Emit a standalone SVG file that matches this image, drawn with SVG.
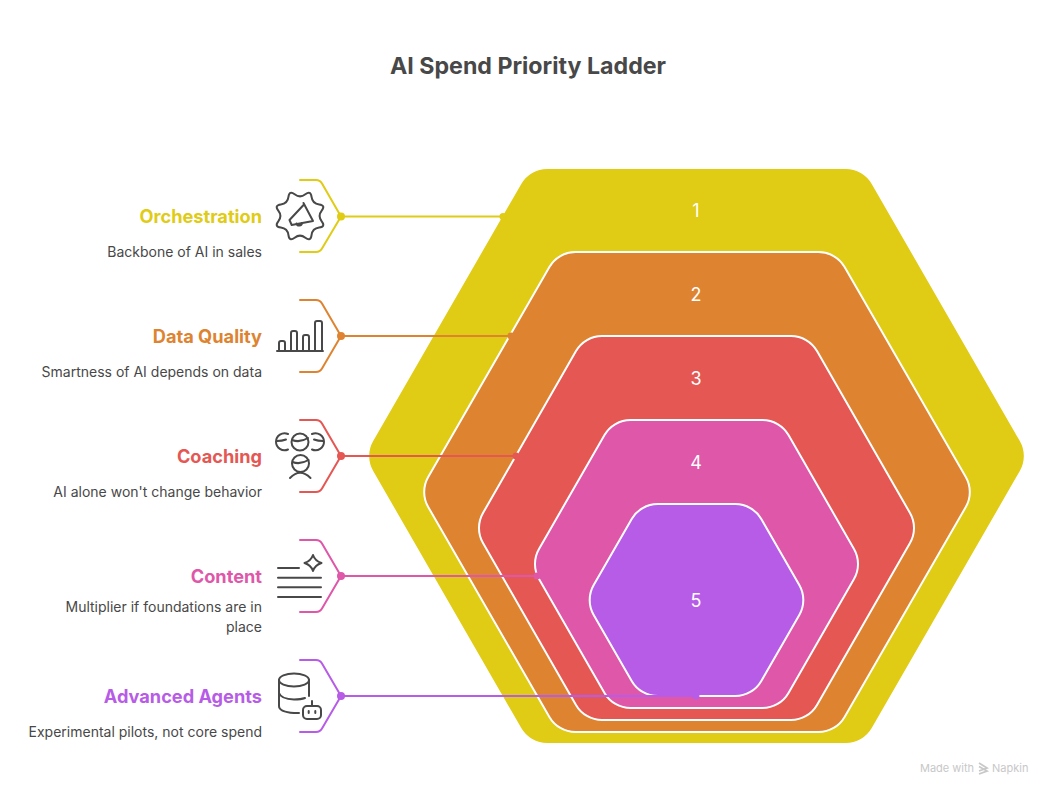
<svg xmlns="http://www.w3.org/2000/svg" width="1050" height="793" viewBox="0 0 1050 793">
<style>
text{font-family:Inter,"Liberation Sans",sans-serif}
.title{font-size:23.200px;font-weight:700;fill:#484848;text-anchor:middle}
.h{font-size:18.200px;font-weight:700;text-anchor:end}
.d{font-size:14px;fill:#484848;text-anchor:end}
.n{font-size:18px;fill:#fff;text-anchor:middle}
.hex{stroke:#fff;stroke-width:2}
.ic{fill:none;stroke:#484848;stroke-width:2;stroke-linecap:round;stroke-linejoin:round}
.c{fill:none;stroke-width:2;stroke-linecap:round;stroke-linejoin:round}
.y{stroke:#e0cb15;fill:#e0cb15}.o{stroke:#de8431;fill:#de8431}.r{stroke:#e55753;fill:#e55753}.p{stroke:#de57a9;fill:#de57a9}.v{stroke:#b75ce6;fill:#b75ce6}
.c.y,.c.o,.c.r,.c.p,.c.v{fill:none}
.dot{stroke:none}
.f{font-size:11px;fill:#c8c8c8}
</style>
<rect width="1050" height="793" fill="#fff"/>
<text class="title" x="528" y="73.500">AI Spend Priority Ladder</text>
<g id="hex-1"><path fill="#e0cb15" d="M547.3 169H845.700A30 30 0 0 1 871.700 184L1019.800 441A30 30 0 0 1 1019.800 471L871.700 728A30 30 0 0 1 845.700 743H547.300A30 30 0 0 1 521.300 728L373.200 471A30 30 0 0 1 373.200 441L521.300 184A30 30 0 0 1 547.300 169Z"/><text class="n" x="696" y="217">1</text></g>
<g id="hex-2"><path class="hex" fill="#de8431" d="M575.400 252H818.600A30 30 0 0 1 844.600 267L965.800 477A30 30 0 0 1 965.800 507L844.600 717A30 30 0 0 1 818.600 732H575.400A30 30 0 0 1 549.400 717L428.200 507A30 30 0 0 1 428.200 477L549.400 267A30 30 0 0 1 575.400 252Z"/><text class="n" x="696" y="301">2</text></g>
<g id="hex-3"><path class="hex" fill="#e55753" d="M602 336H791A30 30 0 0 1 817 351L910 513A30 30 0 0 1 910 543L817 705A30 30 0 0 1 791 720H602A30 30 0 0 1 576 705L483 543A30 30 0 0 1 483 513L576 351A30 30 0 0 1 602 336Z"/><text class="n" x="696" y="385">3</text></g>
<g id="hex-4"><path class="hex" fill="#de57a9" d="M630.500 420H762.500A30 30 0 0 1 788.500 435L854 549A30 30 0 0 1 854 579L788.500 693A30 30 0 0 1 762.500 708H630.500A30 30 0 0 1 604.500 693L539 579A30 30 0 0 1 539 549L604.500 435A30 30 0 0 1 630.500 420Z"/><text class="n" x="696" y="469">4</text></g>
<g id="hex-5"><path class="hex" fill="#b75ce6" d="M657.700 504H735.300A30 30 0 0 1 761.300 519L799.300 585A30 30 0 0 1 799.300 615L761.300 681A30 30 0 0 1 735.300 696H657.700A30 30 0 0 1 631.700 681L593.700 615A30 30 0 0 1 593.700 585L631.700 519A30 30 0 0 1 657.700 504Z"/><text class="n" x="696" y="607">5</text></g>
<g id="connectors">
<g id="conn-1"><path class="c y" d="M300 180H316Q320 180 322 183.500L341 216.500L322 248.500Q320 252 316 252H300M341 216.500H503"/><circle class="y dot" cx="341" cy="216.500" r="4"/><circle class="y dot" cx="503" cy="216.500" r="3.500"/></g>
<g id="conn-2"><path class="c o" d="M300 300H316Q320 300 322 303.500L341 336L322 368.500Q320 372 316 372H300M341 336H511"/><circle class="o dot" cx="341" cy="336" r="4"/><circle class="o dot" cx="511" cy="336" r="3.500"/></g>
<g id="conn-3"><path class="c r" d="M300 420H316Q320 420 322 423.500L341 456L322 488.500Q320 492 316 492H300M341 456H516"/><circle class="r dot" cx="341" cy="456" r="4"/><circle class="r dot" cx="516" cy="456" r="3.500"/></g>
<g id="conn-4"><path class="c p" d="M300 540H316Q320 540 322 543.500L341 576L322 608.500Q320 612 316 612H300M341 576H537"/><circle class="p dot" cx="341" cy="576" r="4"/><circle class="p dot" cx="537" cy="576" r="3.500"/></g>
<g id="conn-5"><path class="c v" d="M300 660H316Q320 660 322 663.500L341 696L322 728.500Q320 732 316 732H300M341 696H696"/><circle class="v dot" cx="341" cy="696" r="4"/><circle class="v dot" cx="696" cy="696" r="3.500"/></g>
</g>
<g id="node-orchestration">
<text class="h" x="262" y="222.500" fill="#e0cb15">Orchestration</text>
<text class="d" x="262" y="257">Backbone of AI in sales</text>
<path class="ic" transform="translate(300 216)" d="M5.350-21.700Q10.700-25.900 11.550-19.150Q12.400-12.400 19.150-11.550Q25.900-10.700 21.700-5.350Q17.500 0 21.700 5.350Q25.900 10.700 19.150 11.550Q12.400 12.400 11.550 19.150Q10.700 25.900 5.350 21.700Q0 17.500-5.350 21.700Q-10.700 25.900-11.550 19.150Q-12.400 12.400-19.150 11.550Q-25.900 10.700-21.700 5.350Q-17.500 0-21.700-5.350Q-25.900-10.700-19.150-11.550Q-12.400-12.400-11.550-19.150Q-10.700-25.900-5.350-21.700Q0-17.500 5.350-21.700Z"/>
<path class="ic" d="M303.500 203L313 221M304 204.500L289.500 220L291.700 225L313 221M296.500 223.500A2.800 2.800 0 0 0 302 223"/>
</g>
<g id="node-data-quality">
<text class="h" x="262" y="342.500" fill="#de8431">Data Quality</text>
<text class="d" x="262" y="377">Smartness of AI depends on data</text>
<path class="ic" d="M277 351H323M279 351V343Q279 341 281 341H283Q285 341 285 343V351M291 351V333Q291 331 293 331H295Q297 331 297 333V351M303 351V337Q303 335 305 335H307Q309 335 309 337V351M315 351V323Q315 321 317 321H320Q322 321 322 323V351"/>
</g>
<g id="node-coaching">
<text class="h" x="262" y="462.500" fill="#e55753">Coaching</text>
<text class="d" x="262" y="497">AI alone won't change behavior</text>
<path class="ic" d="M288 434A8.500 8.500 0 1 0 288 449.500M277 441Q282 441 286 439.500M312 434A8.500 8.500 0 1 1 312 449.500M314 439.500Q318 441 323 441"/>
<circle class="ic" cx="300" cy="442" r="8.500"/><path class="ic" d="M292 440Q300 443 308 438"/>
<circle class="ic" cx="300.500" cy="463.500" r="8.500"/><path class="ic" d="M292.500 462Q300 465 308.500 460"/>
<path class="ic" d="M290 478Q300 467.500 310.500 478"/>
</g>
<g id="node-content">
<text class="h" x="262" y="582.500" fill="#de57a9">Content</text>
<text class="d" x="262" y="612">Multiplier if foundations are in</text>
<text class="d" x="262" y="632">place</text>
<path class="ic" d="M278 568H299M278 577.700H321M278 587.300H321M278 597H321M313 555Q315 561 321.500 563Q315 565 313 571Q311 565 304.500 563Q311 561 313 555Z"/>
</g>
<g id="node-advanced-agents">
<text class="h" x="262" y="702.500" fill="#b75ce6">Advanced Agents</text>
<text class="d" x="262" y="737">Experimental pilots, not core spend</text>
<ellipse class="ic" cx="294" cy="680" rx="15" ry="6.500"/>
<path class="ic" d="M279 680V706Q279 712 294 713H299M279 693Q281 699 294 699.500Q301 699.500 305 698M309 680V696"/>
<rect class="ic" x="303" y="706" width="18" height="13" rx="4"/>
<path class="ic" d="M312 701V706M308.700 711V713M315.300 711V713"/>
</g>
<g id="footer">
<text class="f" x="920" y="772">Made with</text>
<path d="M979 763L987 768L979 771M979 766.500L987 771L979 774" fill="none" stroke="#c8c8c8" stroke-width="1.800"/>
<text class="f" x="992" y="772">Napkin</text>
</g>
</svg>
